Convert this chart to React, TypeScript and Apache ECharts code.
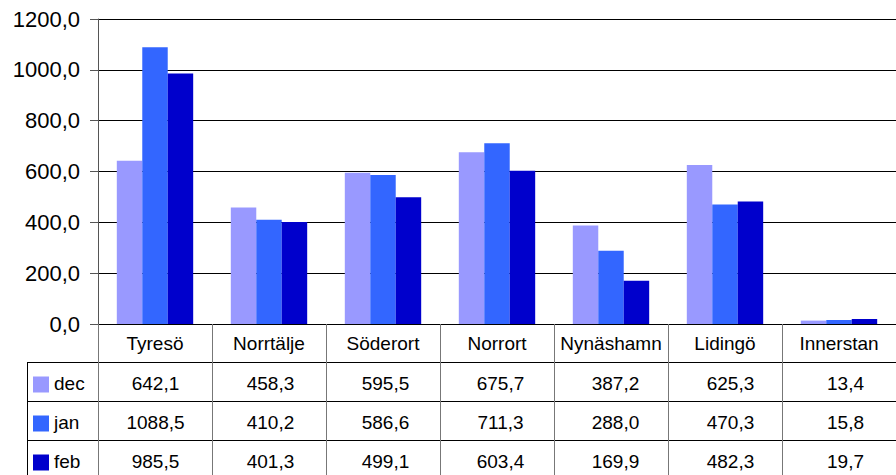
import React, { useEffect, useRef } from "react";
import * as echarts from "echarts";

const categories = ["Tyresö", "Norrtälje", "Söderort", "Norrort", "Nynäshamn", "Lidingö", "Innerstan"];
const seriesNames = ["dec", "jan", "feb"];
const decValues = [642.1, 458.3, 595.5, 675.7, 387.2, 625.3, 13.4];
const janValues = [1088.5, 410.2, 586.6, 711.3, 288.0, 470.3, 15.8];
const febValues = [985.5, 401.3, 499.1, 603.4, 169.9, 482.3, 19.7];
const colors = ["#9999FF", "#3366FF", "#0000CC"];

const FONT = "'Liberation Sans', Arial, sans-serif";
const fmt = (v: number) => v.toFixed(1).replace(".", ",");

export default function App() {
  const ref = useRef<HTMLDivElement>(null);
  useEffect(() => {
    if (!ref.current) return;
    const chart = echarts.init(ref.current, null, { renderer: "svg" });
    const W = 896;
    const left = 98;
    const cellW = 115;
    const gridW = cellW * categories.length;
    const top = 19;
    const zeroY = 324;
    const rowTops = [362, 401, 440];
    const rowH = 39;
    const allValues = [decValues, janValues, febValues];

    const graphics: any[] = [];
    // horizontal table lines
    [...rowTops, 479].forEach((y) => {
      graphics.push({
        type: "line",
        shape: { x1: 27, y1: y + 0.5, x2: left + gridW, y2: y + 0.5 },
        style: { stroke: "#000", lineWidth: 1 },
        silent: true,
      });
    });
    // left border of legend column
    graphics.push({
      type: "line",
      shape: { x1: 27.5, y1: rowTops[0], x2: 27.5, y2: 480 },
      style: { stroke: "#000", lineWidth: 1 },
      silent: true,
    });
    seriesNames.forEach((name, r) => {
      const cy = rowTops[r] + rowH / 2 + 3;
      graphics.push({
        type: "rect",
        shape: { x: 33, y: cy - 8, width: 16, height: 16 },
        style: { fill: colors[r] },
        silent: true,
      });
      graphics.push({
        type: "text",
        x: 54,
        y: cy - 1,
        style: { text: name, font: `19px ${FONT}`, fill: "#000", verticalAlign: "middle", align: "left" },
        silent: true,
      });
      allValues[r].forEach((v, i) => {
        graphics.push({
          type: "text",
          x: left + (i + 0.5) * cellW,
          y: cy - 1,
          style: { text: fmt(v), font: `19px ${FONT}`, fill: "#000", verticalAlign: "middle", align: "center" },
          silent: true,
        });
      });
    });

    const option: any = {
      animation: false,
      backgroundColor: "#fff",
      grid: { left, top, width: gridW, height: zeroY - top, containLabel: false },
      xAxis: {
        type: "category",
        data: categories,
        axisLine: { show: true, lineStyle: { color: "#000", width: 1 } },
        axisTick: { show: true, length: 160, alignWithLabel: false, lineStyle: { color: "#777", width: 1 } },
        axisLabel: { color: "#000", fontSize: 19, fontFamily: FONT, margin: 10, interval: 0 },
        splitLine: { show: false },
      },
      yAxis: {
        type: "value",
        min: 0,
        max: 1200,
        interval: 200,
        axisLine: { show: true, lineStyle: { color: "#555", width: 1 } },
        axisTick: { show: true, length: 8, inside: false, lineStyle: { color: "#555" } },
        axisLabel: { color: "#000", fontSize: 22, fontFamily: FONT, margin: 18, formatter: (v: number) => fmt(v) },
        splitLine: { show: true, lineStyle: { color: "#000", width: 1 } },
      },
      series: seriesNames.map((name, r) => ({
        name,
        type: "bar",
        data: allValues[r],
        itemStyle: { color: colors[r] },
        barGap: "0%",
        barCategoryGap: "33%",
      })),
      graphic: graphics,
    };
    chart.setOption(option);
    return () => chart.dispose();
  }, []);
  return (
    <div
      ref={ref}
      style={{ position: "fixed", left: 0, top: 0, width: 896, height: 475, background: "#fff" }}
    />
  );
}
